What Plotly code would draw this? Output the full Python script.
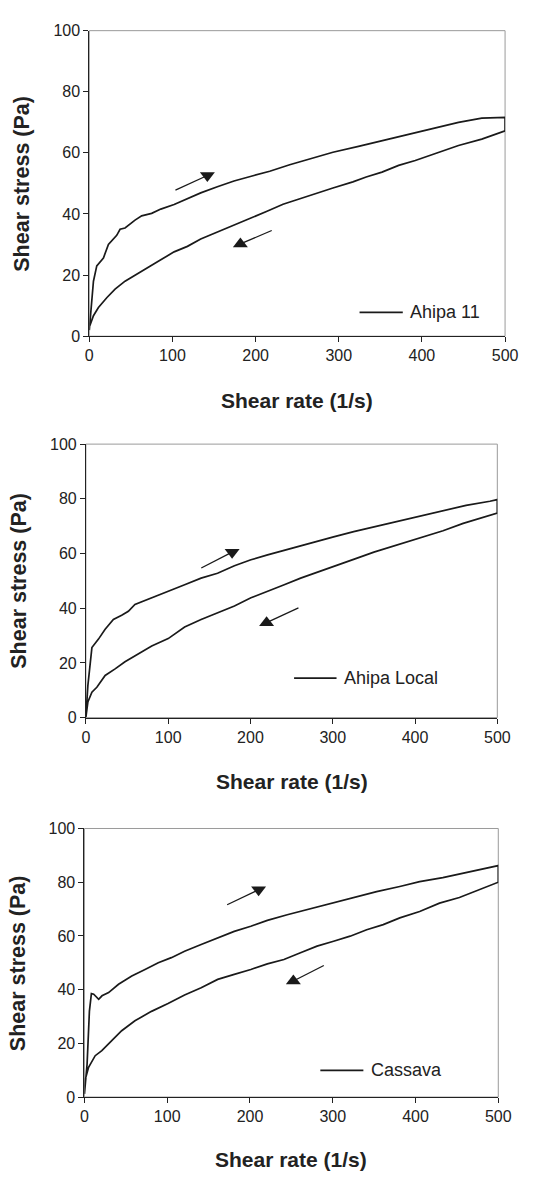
import plotly.graph_objects as go

# ---------------- data ----------------
# Ahipa 11
a11_up_x = [0, 5, 9, 17, 23, 33, 37, 43, 55, 63, 75, 86, 102, 118, 134, 154, 174, 198, 217, 241, 265, 293, 325, 352, 384, 412, 444, 472, 500]
a11_up_y = [2, 18, 23, 25.6, 30, 33, 35, 35.4, 38, 39.4, 40.2, 41.6, 43.1, 45, 46.9, 48.9, 50.8, 52.6, 54, 56.1, 58, 60.2, 62.2, 64, 66.2, 68.1, 70, 71.4, 71.6]
a11_dn_x = [500, 472, 444, 412, 392, 372, 352, 333, 317, 293, 273, 253, 233, 213, 198, 174, 154, 134, 118, 102, 86.5, 70.6, 55, 43, 31, 21, 11, 5, 0]
a11_dn_y = [67.2, 64.5, 62.4, 59.4, 57.5, 55.9, 53.7, 52.1, 50.5, 48.5, 46.7, 45.1, 43.2, 40.8, 39.1, 36.4, 34.3, 31.8, 29.4, 27.6, 25.1, 22.4, 20, 18, 15.4, 12.6, 9.4, 6.7, 2.9]

# Ahipa Local
al_up_x = [0, 2.4, 7.3, 15.3, 23.4, 33.4, 43.5, 51.6, 59.6, 71.7, 83.8, 100, 120, 140, 160, 180.5, 200.6, 220.8, 245, 269, 301, 325.5, 353.7, 382, 406, 434, 462, 491, 500]
al_up_y = [0.2, 11.7, 25.6, 28.7, 32.3, 35.9, 37.4, 38.9, 41.4, 42.9, 44.4, 46.4, 48.6, 51, 52.8, 55.5, 57.7, 59.5, 61.5, 63.7, 66.1, 68, 70, 72, 73.6, 75.6, 77.6, 79.1, 79.7]
al_dn_x = [500, 478.6, 458.5, 434, 410, 390, 370, 350, 329.6, 301, 281, 261, 241, 221, 200.6, 180.5, 160, 140, 120, 100, 80, 59.6, 47.5, 35.5, 23.4, 13.3, 7.3, 2.4, 0]
al_dn_y = [74.8, 72.8, 71, 68.3, 66.1, 64.3, 62.5, 60.5, 58.3, 55.3, 53.1, 51, 48.6, 46.2, 43.8, 40.8, 38.3, 35.9, 33.1, 28.9, 26.2, 22.6, 20.4, 17.8, 15.4, 11.1, 9.3, 5.7, 0.2]

# Cassava
ca_up_x = [0, 3.2, 6, 8.4, 11.2, 17.2, 21.2, 29.2, 41.2, 57.2, 73.2, 89.2, 105, 121, 141, 161, 181, 201, 221, 245, 269, 301, 325, 353, 381, 405, 433, 461, 489, 500]
ca_up_y = [1.2, 12.3, 32, 38.5, 38.3, 36.4, 37.7, 38.9, 42, 45.1, 47.5, 50, 51.9, 54.3, 56.8, 59.3, 61.7, 63.6, 65.8, 67.9, 69.8, 72.2, 74.3, 76.5, 78.4, 80.2, 81.7, 83.6, 85.4, 86.2]
ca_dn_x = [500, 477, 453, 429, 405, 381, 361, 341, 321, 301, 281, 261, 241, 221, 201, 181, 161, 141, 121, 101, 81, 61, 45, 33, 21, 13, 5, 1.2, 0]
ca_dn_y = [80, 77.2, 74.3, 72.2, 69.1, 66.7, 64.2, 62.3, 59.9, 58, 56.2, 53.7, 51.2, 49.6, 47.5, 45.7, 43.8, 40.7, 38, 34.8, 31.9, 28.4, 24.7, 21, 17.3, 15.4, 11.1, 6.8, 2.5]

names = ["Ahipa 11", "Ahipa Local", "Cassava"]
x_ticks = [0, 100, 200, 300, 400, 500]
y_ticks = [0, 20, 40, 60, 80, 100]
x_title = "Shear rate (1/s)"
y_title = "Shear stress (Pa)"

# direction-arrow annotations: (tail_x, tail_y, head_x, head_y)
up_arrows = [(103.6, 47.8, 142, 52.6), (140.2, 54.7, 177.7, 60.5), (172.4, 71.6, 210.4, 77.2)]
dn_arrows = [(219.4, 34.6, 181.7, 30.2), (258.3, 40.1, 219.6, 34.7), (289.2, 49.0, 252.4, 43.2)]
# legend sample positions (data units): line x0, x1, y, text x
legend_pos = [(325, 377, 7.8, 383), (253, 304.6, 14.4, 311.4), (285, 337, 9.9, 344)]

# ---------------- layout geometry (pixels in 552x1178) ----------------
W, H = 552, 1178
panels_px = [(88, 517, 23, 333), (84.5, 509, 442.5, 720), (83, 510, 832.5, 1105)]
xtitle_shift = [-64, -64, -62]

FONT = "Liberation Sans, Arial, sans-serif"
INK = "#1a1a1a"

fig = go.Figure()
curves = [
    (a11_up_x + a11_dn_x, a11_up_y + a11_dn_y),
    (al_up_x + al_dn_x, al_up_y + al_dn_y),
    (ca_up_x + ca_dn_x, ca_up_y + ca_dn_y),
]

for i, (cx, cy) in enumerate(curves):
    ax = "" if i == 0 else str(i + 1)
    xa, ya = "x" + ax, "y" + ax
    fig.add_trace(go.Scatter(x=cx, y=cy, mode="lines", name=names[i],
                             line=dict(color=INK, width=1.7),
                             xaxis=xa, yaxis=ya, showlegend=False, hoverinfo="skip"))
    # arrows
    for (tx, ty, hx, hy), sym in ((up_arrows[i], "triangle-down"), (dn_arrows[i], "triangle-up")):
        fig.add_trace(go.Scatter(x=[tx, hx], y=[ty, hy], mode="lines",
                                 line=dict(color=INK, width=1.3),
                                 xaxis=xa, yaxis=ya, showlegend=False, hoverinfo="skip"))
        fig.add_trace(go.Scatter(x=[hx], y=[hy], mode="markers",
                                 marker=dict(symbol=sym, size=13, color=INK, line=dict(width=0)),
                                 xaxis=xa, yaxis=ya, showlegend=False, hoverinfo="skip"))
    # legend sample
    lx0, lx1, ly, ltx = legend_pos[i]
    fig.add_trace(go.Scatter(x=[lx0, lx1], y=[ly, ly], mode="lines",
                             line=dict(color=INK, width=1.7),
                             xaxis=xa, yaxis=ya, showlegend=False, hoverinfo="skip"))
    fig.add_annotation(x=ltx, y=ly, xref=xa, yref=ya, text=names[i], showarrow=False,
                       xanchor="left", yanchor="middle",
                       font=dict(family=FONT, size=18, color="#222222"))

    x0, x1, y0, y1 = panels_px[i]
    xdom = [x0 / W, x1 / W]
    ydom = [1 - y1 / H, 1 - y0 / H]
    axis_common = dict(showline=True, linecolor="#222222", linewidth=1, ticks="outside",
                       ticklen=5, tickcolor="#222222", showgrid=False, zeroline=False,
                       tickfont=dict(family=FONT, size=16, color="#222222"))
    fig.update_layout(**{
        ("xaxis" + ax): dict(domain=xdom, range=[0, 500], tickvals=x_ticks, anchor=ya, **axis_common),
        ("yaxis" + ax): dict(domain=ydom, range=[0, 100], tickvals=y_ticks, anchor=xa, **axis_common),
    })
    # gray frame (top / right)
    fig.add_shape(type="rect", xref=xa + " domain", yref=ya + " domain", x0=0, x1=1, y0=0, y1=1,
                  line=dict(color="#9a9a9a", width=1), layer="below")
    # axis titles
    fig.add_annotation(text="<b>" + x_title + "</b>", xref=xa + " domain", yref=ya + " domain",
                       x=0.5, y=0, yshift=xtitle_shift[i], showarrow=False, xanchor="center", yanchor="middle",
                       font=dict(family=FONT, size=21, color="#222222"))
    fig.add_annotation(text="<b>" + y_title + "</b>", xref=xa + " domain", yref=ya + " domain",
                       x=0, y=0.5, xshift=-67, showarrow=False, xanchor="center", yanchor="middle",
                       textangle=-90, font=dict(family=FONT, size=21.5, color="#222222"))

fig.update_layout(width=W, height=H, autosize=False, margin=dict(l=0, r=0, t=0, b=0),
                  paper_bgcolor="white", plot_bgcolor="white", showlegend=False)

fig.write_html("out.html", config={"displayModeBar": False, "staticPlot": True},
               post_script="document.body.style.margin='0px';document.body.style.overflow='hidden';")
